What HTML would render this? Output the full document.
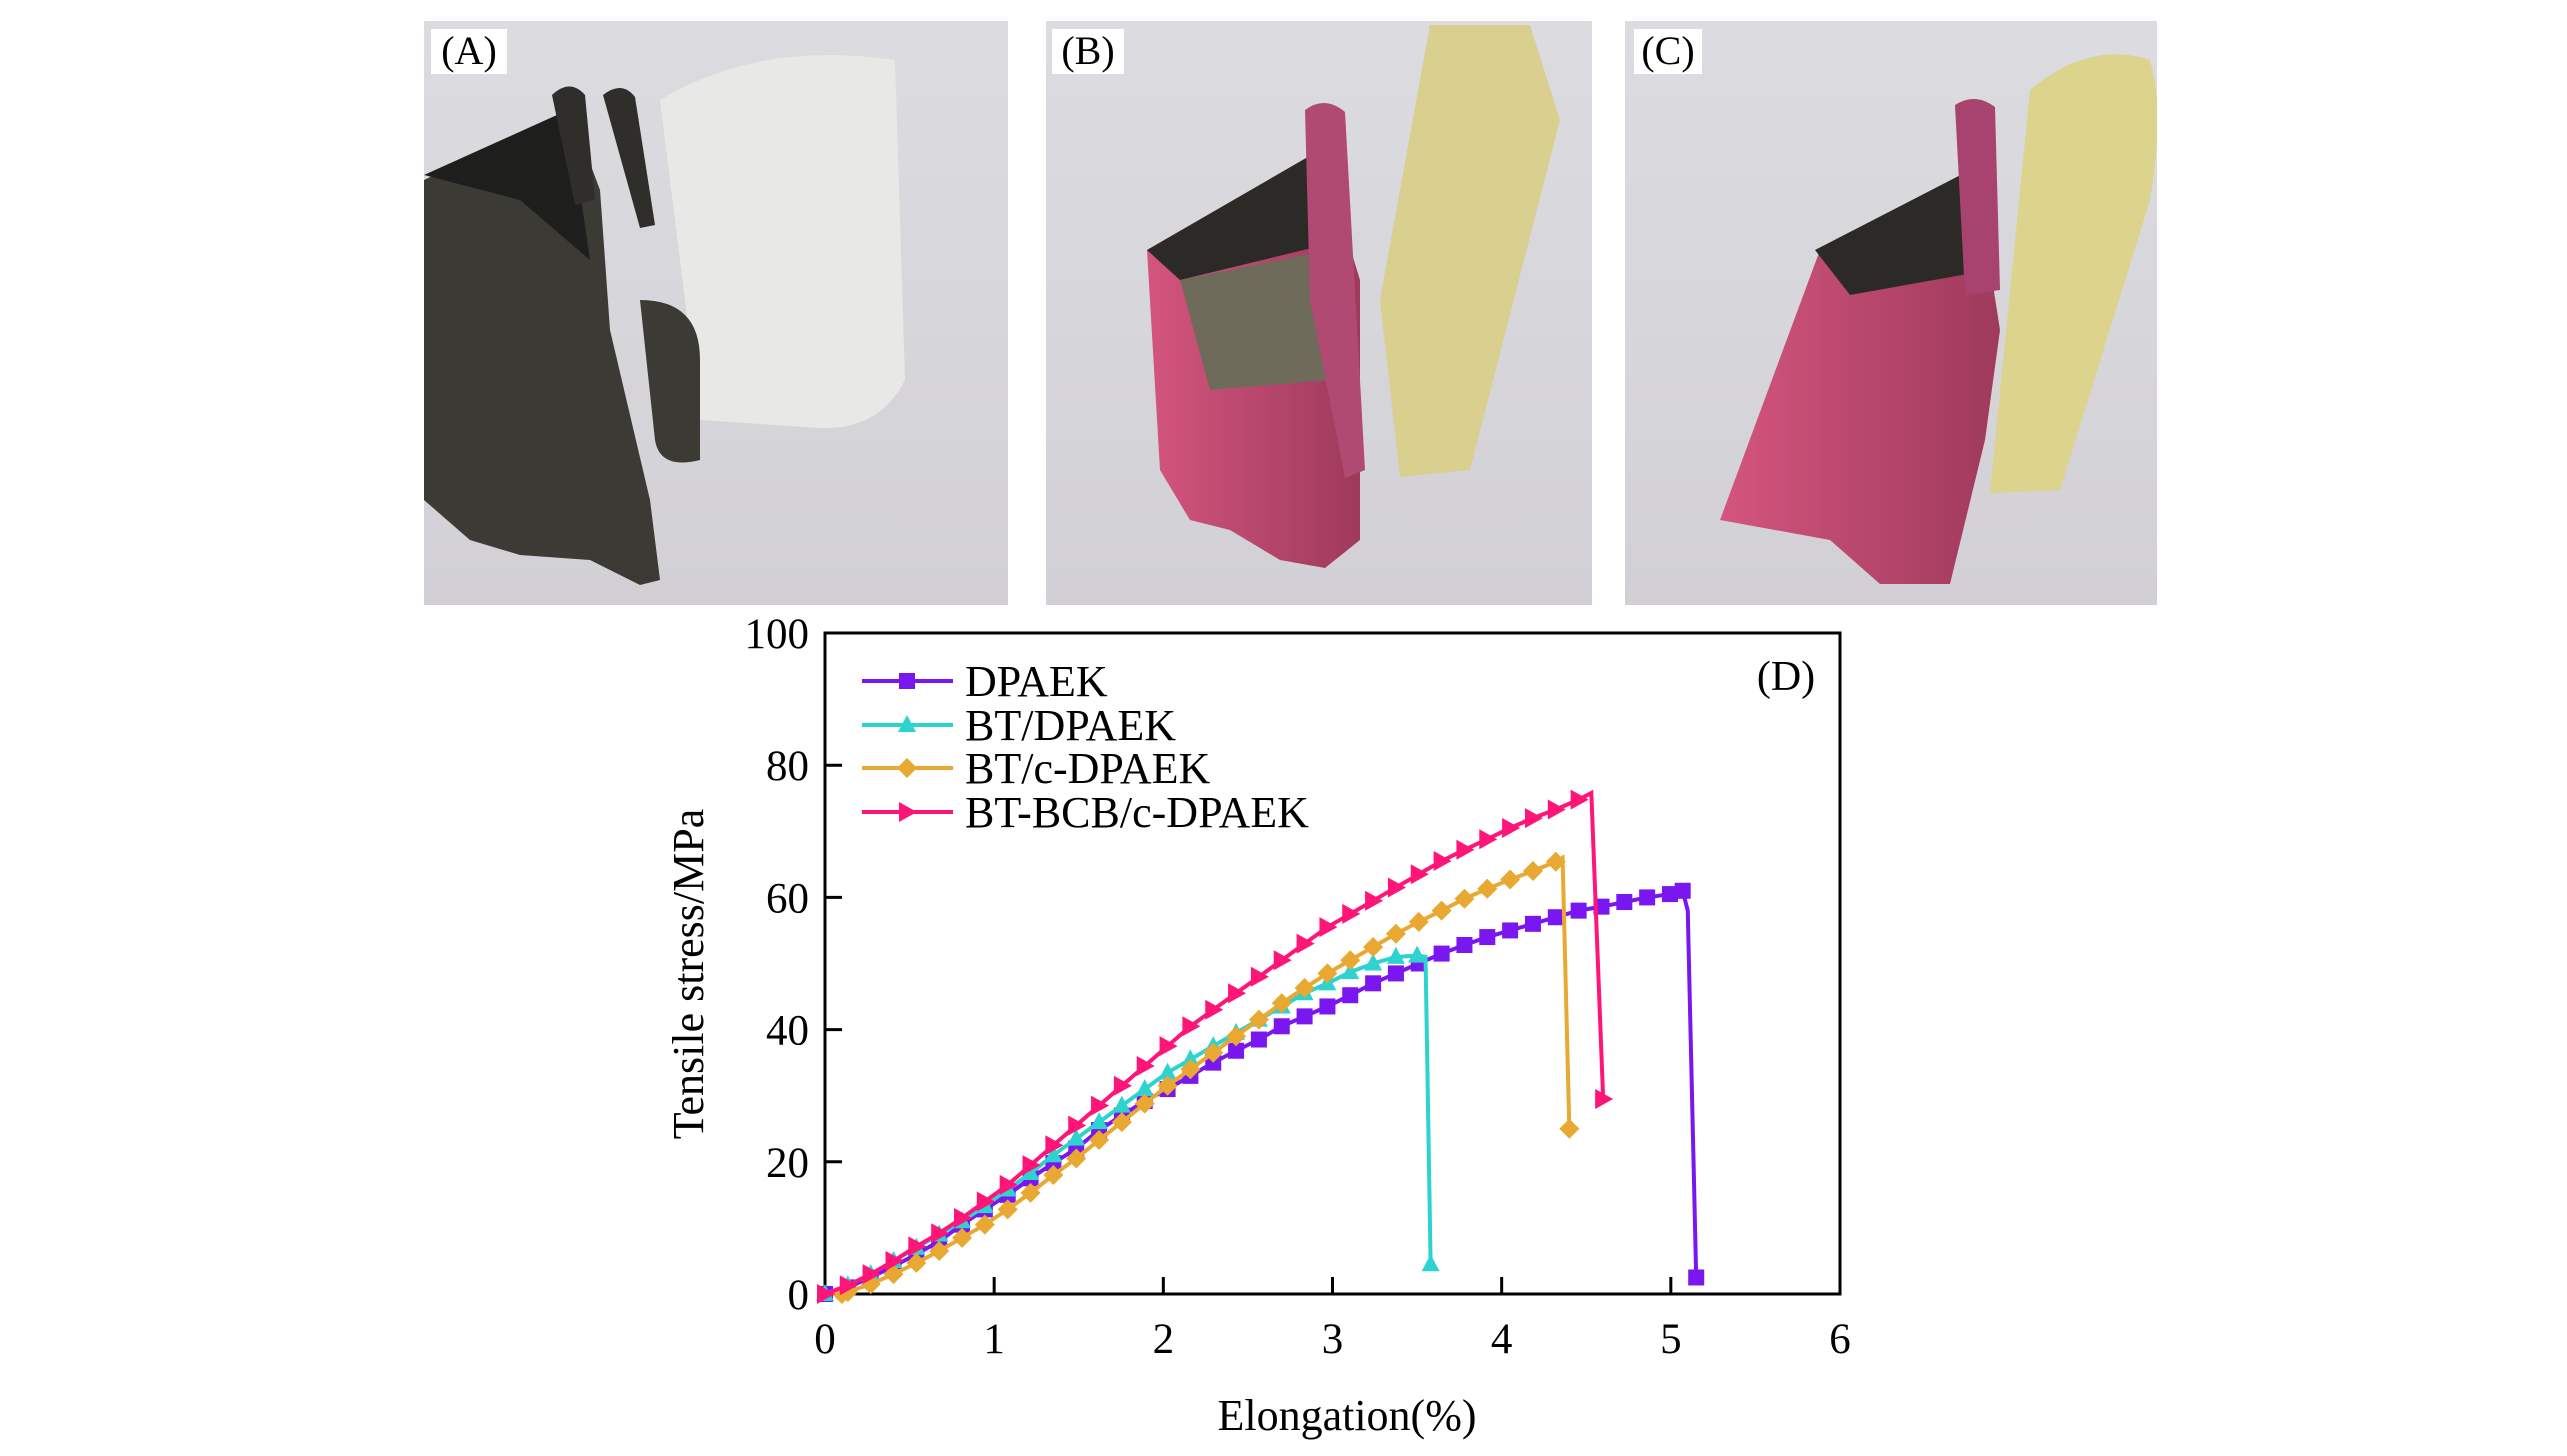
<!DOCTYPE html>
<html><head><meta charset="utf-8">
<style>
html,body{margin:0;padding:0;background:#fff;}
svg{display:block;}
text{font-family:"Liberation Serif",serif;fill:#000;}
</style></head>
<body>
<svg id="fig" width="2567" height="1456" viewBox="0 0 2567 1456" xmlns="http://www.w3.org/2000/svg">
<defs>
<linearGradient id="bgA" x1="0" y1="0" x2="0" y2="1"><stop offset="0" stop-color="#dcdce0"/><stop offset="1" stop-color="#d2d0d5"/></linearGradient>
<linearGradient id="pinkG" x1="0" y1="0" x2="1" y2="0"><stop offset="0" stop-color="#d4557e"/><stop offset="1" stop-color="#9e3a5c"/></linearGradient>
<clipPath id="cA"><rect x="424" y="21" width="584" height="584"/></clipPath>
<clipPath id="cB"><rect x="1046" y="21" width="546" height="584"/></clipPath>
<clipPath id="cC"><rect x="1625" y="21" width="532" height="584"/></clipPath>
</defs>
<!-- Photo A -->
<g clip-path="url(#cA)">
<rect x="424" y="21" width="584" height="584" fill="url(#bgA)"/>
<path d="M660 100 Q760 40 895 60 L905 380 Q880 430 820 428 L700 420 Z" fill="#e8e8e6"/>
<path d="M424 180 L570 110 L600 190 L610 330 L650 500 L660 580 L640 585 L590 560 L520 555 L470 540 L424 500 Z" fill="#3b3a34"/>
<path d="M424 175 L568 110 L590 260 L520 200 Z" fill="#1e1e1c"/>
<path d="M552 95 Q570 78 585 95 L595 200 L575 205 Z" fill="#2f2e2a"/>
<path d="M603 95 Q622 80 635 97 L655 225 L640 228 Z" fill="#2f2e2a"/>
<path d="M640 300 Q700 300 700 360 L700 460 Q660 470 655 440 Z" fill="#3b3a34"/>
<rect x="431" y="29" width="76" height="45" fill="#fff"/>
<text x="469" y="64" font-size="40" text-anchor="middle">(A)</text>
</g>
<!-- Photo B -->
<g clip-path="url(#cB)">
<rect x="1046" y="21" width="546" height="584" fill="url(#bgA)"/>
<path d="M1430 25 L1530 25 L1560 120 L1470 470 L1400 477 L1380 300 Z" fill="#d9cf8e"/>
<path d="M1147 250 L1320 150 L1360 280 L1360 540 L1325 568 L1280 560 L1230 530 L1190 520 L1160 470 Z" fill="url(#pinkG)"/>
<path d="M1147 250 L1320 150 L1345 240 L1180 280 Z" fill="#2c2a26"/>
<path d="M1180 280 L1330 250 L1330 380 L1210 390 Z" fill="#6f6b5a"/>
<path d="M1305 110 Q1325 95 1345 112 L1365 470 L1345 478 L1310 300 Z" fill="#b04a72"/>
<rect x="1052" y="29" width="72" height="45" fill="#fff"/>
<text x="1088" y="64" font-size="40" text-anchor="middle">(B)</text>
</g>
<!-- Photo C -->
<g clip-path="url(#cC)">
<rect x="1625" y="21" width="532" height="584" fill="url(#bgA)"/>
<path d="M2030 90 Q2090 40 2150 60 Q2165 110 2150 200 L2060 490 L1990 493 Z" fill="#dcd38c"/>
<path d="M1820 250 L1975 170 L2000 330 L1985 440 L1950 584 L1880 584 L1830 540 L1720 520 Z" fill="url(#pinkG)"/>
<path d="M1815 250 L1980 165 L1990 270 L1850 295 Z" fill="#2c2a26"/>
<path d="M1955 105 Q1975 92 1995 107 L2000 290 L1965 295 Z" fill="#a84370"/>
<rect x="1634" y="29" width="68" height="45" fill="#fff"/>
<text x="1668" y="64" font-size="40" text-anchor="middle">(C)</text>
</g>

<g id="chart"></g>
</svg>
<script>
const xTicks = [0,1,2,3,4,5,6];
const yTicks = [0,20,40,60,80,100];
const seriesNames = ["DPAEK","BT/DPAEK","BT/c-DPAEK","BT-BCB/c-DPAEK"];
const dpaekX = [0,0.135,0.27,0.405,0.54,0.675,0.81,0.945,1.08,1.215,1.35,1.485,1.62,1.755,1.89,2.025,2.16,2.295,2.43,2.565,2.7,2.835,2.97,3.105,3.24,3.375,3.51,3.645,3.78,3.915,4.05,4.185,4.32,4.455,4.59,4.725,4.86,4.995,5.07];
const dpaekY = [0,1,2.5,4.2,6,8,10.5,12.8,15,17.5,19.8,22,24.8,27,29.2,31,33,35,36.8,38.5,40.5,42,43.5,45.2,47,48.5,50,51.5,52.8,54,55,56,57,58,58.6,59.3,60,60.5,61];
const dpaekFail = [5.1,58,5.15,2.5];
const btX = [0,0.135,0.27,0.405,0.54,0.675,0.81,0.945,1.08,1.215,1.35,1.485,1.62,1.755,1.89,2.025,2.16,2.295,2.43,2.565,2.7,2.835,2.97,3.105,3.24,3.375,3.5];
const btY = [0,1.3,3,5,7,9,11,13.3,15.8,18.3,21,23.5,26,28.5,31,33.5,35.5,37.5,39.5,41.5,43.5,45.5,47,48.7,50,51,51.2];
const btFail = [3.55,51,3.58,4.5];
const btcX = [0.1,0.135,0.27,0.405,0.54,0.675,0.81,0.945,1.08,1.215,1.35,1.485,1.62,1.755,1.89,2.025,2.16,2.295,2.43,2.565,2.7,2.835,2.97,3.105,3.24,3.375,3.51,3.645,3.78,3.915,4.05,4.185,4.32];
const btcY = [0,0.3,1.5,3,4.7,6.5,8.5,10.5,12.8,15.3,18,20.5,23.3,26,28.8,31.5,34,36.5,39,41.5,44,46.3,48.5,50.5,52.5,54.5,56.3,58,59.8,61.3,62.7,64,65.4];
const btcFail = [4.36,66,4.4,25];
const bcbX = [0,0.135,0.27,0.405,0.54,0.675,0.81,0.945,1.08,1.215,1.35,1.485,1.62,1.755,1.89,2.025,2.16,2.295,2.43,2.565,2.7,2.835,2.97,3.105,3.24,3.375,3.51,3.645,3.78,3.915,4.05,4.185,4.32,4.455];
const bcbY = [0,1.3,3,5,7.2,9.2,11.5,14,16.5,19.5,22.5,25.5,28.5,31.5,34.5,37.5,40.5,43,45.5,48,50.5,53,55.5,57.5,59.5,61.5,63.5,65.5,67.2,68.8,70.5,72,73.3,74.8];
const bcbFail = [4.53,75.8,4.6,29.5];

const NS = "http://www.w3.org/2000/svg";
const g = document.getElementById('chart');
const X0=825, X1=1840, Y0=1294, Y1=633;
const sx = v => X0 + v/6*(X1-X0);
const sy = v => Y0 - v/100*(Y0-Y1);
function mk(tag, attrs, parent){const e=document.createElementNS(NS,tag);for(const k in attrs)e.setAttribute(k,attrs[k]);(parent||g).appendChild(e);return e;}
function txt(s,x,y,size,anchor,extra){const t=mk('text',Object.assign({x:x,y:y,'font-size':size,'text-anchor':anchor||'start'},extra||{}));t.textContent=s;return t;}

function marker(type,x,y,color,parent){
  const s=9; let e;
  if(type==='square'){e=mk('rect',{x:x-s+1,y:y-s+1,width:2*s-2,height:2*s-2,fill:color},parent);}
  else if(type==='tri'){e=mk('polygon',{points:`${x},${y-s-1} ${x+s},${y+s-2} ${x-s},${y+s-2}`,fill:color},parent);}
  else if(type==='diamond'){e=mk('polygon',{points:`${x},${y-s-1} ${x+s+1},${y} ${x},${y+s+1} ${x-s-1},${y}`,fill:color},parent);}
  else {e=mk('polygon',{points:`${x-s+1},${y-s-1} ${x+s+1},${y} ${x-s+1},${y+s+1}`,fill:color},parent);}
  return e;
}

const frame=mk('rect',{x:X0,y:Y1,width:X1-X0,height:Y0-Y1,fill:'none',stroke:'#000','stroke-width':3});



xTicks.forEach(v=>{
  const x=sx(v);
  if(v>0&&v<6){const l=mk('line',{x1:x,y1:Y0,x2:x,y2:Y0-17,stroke:'#000','stroke-width':3});
  
  }
  const t=txt(String(v),x,Y0+59,43,'middle');
  
  
});
yTicks.forEach(v=>{
  const y=sy(v);
  if(v>0&&v<100){const l=mk('line',{x1:X0,y1:y,x2:X0+17,y2:y,stroke:'#000','stroke-width':3});
  
  }
  const t=txt(String(v),809,y+15,43,'end');
  
  
});
const xt=txt('Elongation(%)',1347,1430,44,'middle');


const yt=txt('Tensile stress/MPa',0,0,44,'middle',{transform:'translate(703,974) rotate(-90)'});


const pd=txt('(D)',1786,690,42,'middle');



const series=[
 {xs:dpaekX,ys:dpaekY,fail:dpaekFail,color:'#7a16f0',m:'square',name:'series-dpaek'},
 {xs:btX,ys:btY,fail:btFail,color:'#2ed2cf',m:'tri',name:'series-bt-dpaek'},
 {xs:btcX,ys:btcY,fail:btcFail,color:'#e9a831',m:'diamond',name:'series-bt-c-dpaek'},
 {xs:bcbX,ys:bcbY,fail:bcbFail,color:'#ff1577',m:'right',name:'series-bt-bcb-c-dpaek'}
];
series.forEach(s=>{
  const sg=mk('g',{});
  
  
  let pts=s.xs.map((x,i)=>sx(x)+','+sy(s.ys[i]));
  pts.push(sx(s.fail[0])+','+sy(s.fail[1]));
  pts.push(sx(s.fail[2])+','+sy(s.fail[3]));
  const pl=mk('polyline',{points:pts.join(' '),fill:'none',stroke:s.color,'stroke-width':4},sg);
  
  
  s.xs.forEach((x,i)=>{
    const m=marker(s.m,sx(x),sy(s.ys[i]),s.color,sg);
    
    
  });
  const fm=marker(s.m,sx(s.fail[2]),sy(s.fail[3]),s.color,sg);
  
  
});

const legY=[681,725,768,812];
series.forEach((s,i)=>{
  const lg=mk('g',{});
  
  
  mk('line',{x1:862,y1:legY[i],x2:953,y2:legY[i],stroke:s.color,'stroke-width':4},lg);
  marker(s.m,907,legY[i],s.color,lg);
  const t=mk('text',{x:965,y:legY[i]+15,'font-size':44},lg);
  t.textContent=seriesNames[i];
});
</script>
</body></html>
